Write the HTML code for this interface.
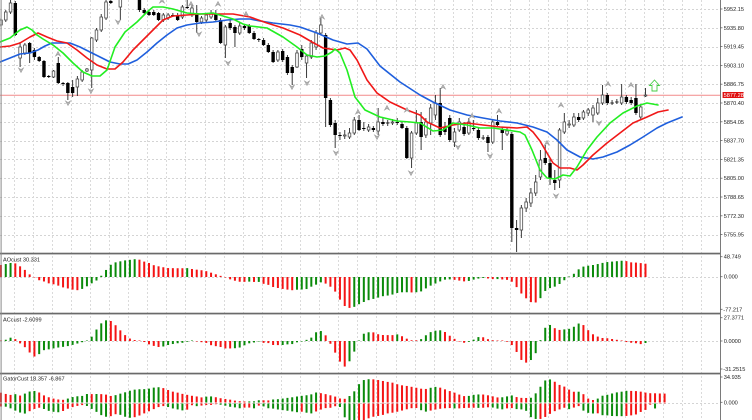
<!DOCTYPE html>
<html><head><meta charset="utf-8">
<style>
html,body{margin:0;padding:0;background:#fff;width:752px;height:420px;overflow:hidden}
svg{display:block}
text{font-family:"Liberation Sans",sans-serif;font-size:5.6px;fill:#222}
</style></head><body>
<svg id="s" width="752" height="420" viewBox="0 0 752 420" xmlns="http://www.w3.org/2000/svg">
<defs>
<clipPath id="cm"><rect x="0" y="0" width="720" height="252.7"/></clipPath>
<clipPath id="cp"><rect x="0" y="254" width="720" height="166"/></clipPath>
</defs>
<rect x="0" y="0" width="752" height="420" fill="#fff"/>
<g id="grid"></g>
<line x1="0" y1="95.2" x2="720" y2="95.2" stroke="#f28a8a" stroke-width="1"/>
<g id="main" clip-path="url(#cm)"></g>
<g id="pan" clip-path="url(#cp)"></g>
<!-- green arrow -->
<path d="M654.5,80 L659.5,85.5 L657,85.5 L657,91 L652,91 L652,85.5 L649.5,85.5 Z" fill="none" stroke="#44cc44" stroke-width="0.9"/>
<!-- separators & axes -->
<rect x="0" y="252.7" width="721" height="1.7" fill="#6a6a6a"/>
<rect x="0" y="312.7" width="721" height="1.7" fill="#6a6a6a"/>
<rect x="0" y="372.7" width="721" height="1.7" fill="#6a6a6a"/>
<rect x="720" y="0" width="1" height="420" fill="#7a7a7a"/>
<rect x="0.6" y="0" width="1" height="420" fill="#8a8a8a"/>
<g id="ticks" stroke="#666" stroke-width="0.8"></g>
<!-- price labels -->
<text x="723.8" y="11">5952.15</text>
<text x="723.8" y="29.8">5935.80</text>
<text x="723.8" y="48.6">5919.45</text>
<text x="723.8" y="67.4">5903.10</text>
<text x="723.8" y="86.2">5886.75</text>
<text x="723.8" y="105">5870.40</text>
<text x="723.8" y="123.8">5854.05</text>
<text x="723.8" y="142.6">5837.70</text>
<text x="723.8" y="161.4">5821.35</text>
<text x="723.8" y="180.2">5805.00</text>
<text x="723.8" y="199">5788.65</text>
<text x="723.8" y="217.8">5772.30</text>
<text x="723.8" y="236.6">5755.95</text>
<rect x="722.6" y="92" width="21" height="6" fill="#e01010"/>
<text x="723.6" y="97.2" style="fill:#fff">5877.28</text>
<text x="723.8" y="258.7">48.749</text>
<text x="723.8" y="278.7">0.000</text>
<text x="723.3" y="311.3">-77.217</text>
<text x="723.8" y="319.7">27.3771</text>
<text x="723.8" y="343">0.0000</text>
<text x="723.3" y="371">-31.2515</text>
<text x="723.8" y="379">34.935</text>
<text x="723.8" y="404.3">0.000</text>
<text x="3" y="261.7">AOcust 30.331</text>
<text x="3" y="321.7">ACcust -2.6099</text>
<text x="3" y="380.7">GatorCust 18.357 -6.867</text>
</svg>
<script>
(function(){
var X0=1,DX=4.774;
var C=[[25,20,18,27],[20,12,10,22],[12,3,0,14],[3,35,1,36],[58,47,42,67],[53,45,43,55],[43,53,42,63],[50,57,48,60],[57,61,56,62],[61,77,60,78],
[76,77,75,78],[77,71,70,78],[63,83,57,84],[83,84,82,86],[83,93,82,100],[87,93,80,97],[87,79,76,96],[80,72,70,82],[71,69,68,72],[70,38,37,88],
[40,30,28,42],[30,17,14,32],[18,2,0,20],[1,3,0,4],[-2,-10,-14,0],[7,-3,-5,20],[-5,-15,-20,-2],[-8,-14,-20,-3],[-10,-4,-18,-2],[-10,10,-15,12],
[10,13,8,15],[12,15,10,16],[12,15,10,16],[13,20,12,21],[20,15,13,22],[18,15,13,20],[15,16,13,17],[15,20,13,21],[17,7,5,19],[7,8,0,9],
[15,8,5,17],[13,22,5,33],[22,18,16,24],[20,15,13,22],[17,13,10,19],[14,20,10,22],[20,43,18,44],[45,27,25,58],[23,28,20,30],[27,33,25,47],
[33,26,22,35],[26,28,24,30],[26,33,24,34],[33,39,31,40],[39,40,38,42],[40,45,38,46],[45,52,43,53],[52,62,50,63],[60,52,50,62],[51,60,49,62],
[57,73,55,75],[67,73,65,85],[67,53,50,68],[49,57,45,60],[63,56,54,78],[57,43,40,59],[47,33,30,50],[33,25,18,35],[35,98,33,127],[100,125,98,127],
[123,135,120,148],[135,136,132,140],[136,135,130,139],[137,133,128,139],[133,120,117,135],[120,130,115,131],[128,129,122,131],[130,127,124,132],[128,130,126,132],[131,122,108,135],
[122,124,118,126],[123,123,120,126],[123,122,119,125],[122,123,118,125],[124,128,121,129],[128,158,126,159],[158,133,131,168],[133,123,110,135],[122,137,112,150],[135,122,118,138],
[123,108,104,135],[115,103,95,120],[103,135,88,137],[127,132,122,135],[118,140,115,142],[142,132,128,147],[130,122,118,132],[127,134,122,136],[133,122,118,135],[128,129,120,131],
[130,138,127,140],[138,138,135,140],[137,143,135,152],[142,122,120,144],[122,125,115,127],[130,133,127,150],[134,131,128,136],[134,228,132,242],[228,230,220,252],[230,208,205,238],
[208,202,198,212],[203,193,188,207],[193,182,175,196],[177,160,150,180],[158,163,145,165],[163,178,158,185],[180,183,170,190],[180,130,128,188],[132,122,113,134],[125,124,120,128],
[125,117,113,127],[117,120,113,122],[118,112,110,120],[113,110,108,116],[115,108,105,122],[113,103,98,115],[103,95,85,105],[95,103,93,105],[103,103,100,105],[102,102,99,104],
[103,97,84,105],[97,102,95,104],[100,103,97,105],[98,113,84,115],[117,107,104,120],[96,95,88,97]];

var BLUE=[[0,62],[10,58],[20,54],[30,53],[38,50],[45,46],[52,43],[60,43],[70,43],[80,47],[90,52],[100,57],[110,62],[120,64],[128,64],[137,60],[147,52],[157,43],[167,35],[177,28],[187,25],[200,23],[213,22],[227,20],[240,19],[250,19],[260,21],[273,23],[290,25],[300,27],[317,33],[333,40],[347,44],[358,43],[367,49],[380,66],[400,82],[420,95],[433,102],[450,110],[467,115],[483,118],[500,121],[517,123],[533,127],[547,132],[557,140],[567,150],[580,157],[593,159],[603,157],[617,152],[630,145],[643,137],[657,128],[667,123],[682,117]];
var RED=[[0,47],[10,46],[20,43],[30,37],[38,33],[47,37],[57,41],[67,43],[77,50],[87,58],[97,65],[107,69],[115,69],[123,62],[133,50],[143,40],[153,30],[163,20],[173,16],[187,15],[200,14],[217,14],[233,14],[250,17],[267,23],[283,28],[300,35],[312,42],[323,48],[337,50],[345,48],[350,50],[357,60],[367,80],[377,93],[390,102],[407,110],[420,115],[427,122],[440,128],[453,125],[467,123],[483,125],[500,127],[517,128],[527,127],[533,132],[540,141],[547,153],[553,163],[560,168],[570,168],[577,170],[583,165],[593,155],[607,143],[620,133],[633,123],[647,117],[658,112],[668,110]];
var GRN=[[0,42],[10,38],[20,30],[27,27],[32,30],[37,35],[43,39],[53,45],[63,53],[73,63],[83,72],[92,76],[100,76],[107,70],[115,47],[125,32],[137,22],[147,12],[153,7],[163,7],[173,9],[187,13],[200,14],[213,13],[223,16],[233,19],[243,24],[250,26],[267,28],[283,37],[297,47],[307,55],[317,57],[325,56],[332,52],[335,49],[340,53],[347,70],[355,97],[365,110],[380,117],[397,121],[410,122],[420,123],[433,131],[443,130],[453,123],[467,125],[480,128],[493,128],[507,130],[520,132],[525,135],[532,150],[540,170],[547,178],[555,179],[563,175],[570,176],[577,167],[587,150],[597,137],[610,123],[623,113],[637,106],[647,103],[658,105]];

var AO=[[1,12],[6,13],[10,14],[14,14.1],[17,13],[21,10],[25,7],[29,3],[33,0.5],[38,-3],[43,-4],[47,-6],[52,-7],[57,-8],[61,-10],[66,-11],[70,-12],[74,-13],[78,-13.2],[82,-12],[86,-10],[90,-7],[95,-5],[99,-1],[104,4],[108,10],[113,14],[117,15],[122,16],[127,17],[132,17.3],[136,18],[141,17],[145,15],[149,14],[153,12],[157,11],[162,10],[167,9],[171,8.8],[175,8.9],[179,8.7],[184,8.8],[188,8.9],[192,8],[197,7.3],[202,6.7],[207,5.7],[212,4],[217,2.3],[222,0.7],[227,-1],[231,-2.7],[236,-4],[241,-5],[245,-4.8],[250,-4.6],[255,-5],[259,-4.9],[264,-7],[269,-8],[273,-10],[278,-11],[283,-12],[288,-12.7],[293,-13.3],[297,-12.7],[302,-12.5],[307,-12],[312,-9.3],[316,-7.7],[321,-5.3],[326,-6.7],[330,-9.3],[335,-14.3],[340,-22.7],[344,-28.7],[349,-31],[354,-30],[358,-27.7],[363,-25.3],[368,-23.3],[373,-22],[377,-21],[382,-19.3],[387,-18.7],[392,-17.7],[397,-16],[401,-15.3],[406,-15.2],[410,-15.5],[415,-15.3],[420,-15.1],[425,-12],[429,-9.3],[433,-7.7],[438,-5.3],[443,-3.3],[447,-2],[452,-2.7],[457,-3],[462,-4.3],[467,-4.5],[471,-3.3],[476,-2],[480,-1.3],[485,-0.7],[490,-2],[495,-2.2],[499,-2],[504,-2.7],[508,-2.9],[513,-5.3],[518,-12],[523,-18.7],[527,-22],[532,-26],[537,-25.3],[542,-19.3],[546,-12.7],[551,-10.7],[556,-9.3],[560,-6.7],[565,-2.7],[570,0.7],[574,3.3],[579,8],[584,10.7],[588,11.3],[593,12],[598,13],[602,14],[606,14.7],[609,15.3],[612,15.4],[616,15.7],[621,16.3],[626,16],[630,14.7],[635,14.5],[640,14],[645,13.3]];

var AC=[[1,0.5],[6,1.3],[10,3.3],[14,3.35],[18,-1],[23,-4.3],[28,-9.3],[33,-16],[38,-14.3],[43,-9.3],[47,-8.7],[52,-7.7],[57,-6.7],[62,-6],[67,-5.3],[71,-4.3],[75,-3.3],[79,-2],[83,-1],[87,0.5],[91,3.3],[95,9],[99,15.7],[104,20],[108,21.3],[113,19],[117,14],[122,9],[127,4],[132,1.3],[137,0.7],[142,0.3],[147,-2.7],[152,-4.3],[157,-6],[162,-5.9],[167,-4.3],[171,-3.3],[175,-2.7],[179,-2],[184,-1.7],[188,-0.5],[192,0.5],[197,-0.3],[202,-1.3],[207,-2],[212,-4.7],[217,-5.3],[222,-6.3],[227,-8],[231,-7.3],[236,-7.2],[241,-6.3],[245,-4],[250,-2],[255,-1.3],[259,-0.4],[264,-2],[269,-2.1],[273,-4],[278,-4.1],[283,-4],[288,-3.3],[293,-3],[297,-1.3],[302,-0.3],[307,1.3],[312,3.7],[316,8.7],[321,10],[326,5.3],[330,-2],[335,-11.3],[340,-20.7],[344,-26.3],[349,-21.3],[354,-11.3],[358,-1.3],[363,7],[368,8.7],[373,8.8],[377,7],[382,6],[387,5.9],[392,5.8],[397,6.7],[401,5.3],[406,2.7],[410,0.8],[415,0.6],[420,1],[425,5],[429,8.3],[433,9.7],[438,11],[443,10.3],[447,7.7],[452,3.3],[457,1],[462,-1.7],[467,-1.8],[471,0.3],[476,2.3],[480,5],[485,3],[490,1],[495,0.6],[499,0.4],[504,0.2],[508,-1],[513,-5],[518,-13.3],[523,-21.7],[527,-21.6],[532,-18.3],[537,-10],[542,5.7],[546,15],[551,16.3],[556,11.7],[560,11],[565,11.7],[570,12.3],[574,14.3],[579,17.7],[584,15.7],[588,11],[593,6.7],[598,4.3],[602,3],[606,3.1],[609,2.3],[612,2],[616,1.3],[621,0.7],[626,-1],[630,-1.7],[635,-2],[640,-3.3],[645,-2]];

var GU=[[1,9.8],[6,8.5],[11,7.5],[15,8.5],[19,6.5],[24,8.5],[29,10.8],[33,11.8],[38,10.8],[43,7.5],[47,5.8],[52,4.2],[57,3.2],[62,2.5],[66,3.2],[71,5.2],[75,5.8],[79,6.5],[83,6.6],[87,8.5],[91,8.4],[96,8.5],[100,8.4],[104,8.3],[108,7.5],[113,5.8],[117,8.2],[122,9.2],[127,10.8],[132,12.5],[137,13.2],[142,13.3],[146,13.4],[151,14.2],[155,15.2],[160,15.3],[164,14.2],[168,12.5],[173,10.8],[178,9.8],[183,8.5],[188,7.5],[192,6.7],[197,6],[202,5],[207,6],[212,6.1],[217,5],[222,4],[227,3.3],[231,2.7],[236,1.7],[241,1.2],[245,1],[250,1.1],[255,1.2],[259,2.3],[264,2.2],[269,2.1],[273,3],[278,3.3],[283,4],[288,4.7],[293,5.3],[297,6],[302,6.7],[307,7.3],[312,8.3],[316,10],[321,9.3],[326,8.3],[330,7.3],[335,6],[340,4],[344,3.3],[349,6],[354,10.7],[358,17.3],[363,22.3],[368,23.3],[373,23.2],[377,22.7],[382,21.7],[387,20.7],[392,20],[397,18.3],[401,17.3],[406,16.7],[410,16],[415,15],[420,14],[424,13.3],[429,14],[433,15.7],[438,15.5],[443,14],[447,12.3],[452,10.7],[457,9],[462,6.7],[467,6],[471,7.3],[476,8],[480,8.1],[485,7.9],[490,6.7],[495,5.7],[499,4.7],[504,5.5],[508,6.3],[513,7.3],[518,4.7],[523,4.6],[527,4.5],[532,4.8],[537,10.7],[542,18],[546,23],[551,23.1],[556,20],[560,17.3],[565,15.7],[570,12.3],[574,10.7],[579,10.8],[584,8],[588,4],[593,2.5],[598,4],[602,6.7],[606,7.3],[609,8.3],[612,9],[616,10],[621,10.7],[626,11.7],[630,11.6],[635,11.5],[640,11],[645,10],[650,9.3],[655,9.2],[660,9],[665,8.9]];

var GD=[[1,3],[6,3.2],[11,5],[15,7],[20,9],[24,10.5],[29,8],[33,6],[38,4],[43,5],[47,7],[52,8],[57,9],[62,8],[66,6],[71,4],[75,3],[79,2],[83,1.5],[87,2.5],[91,5],[96,8],[100,11],[104,13],[108,13.5],[113,12],[117,10],[122,12],[127,14],[132,14.5],[137,13],[142,11],[146,9],[151,7],[155,5],[160,3],[164,2.5],[168,3.5],[173,5],[178,6],[183,7],[188,6],[192,1.7],[197,2.7],[202,2],[207,1.5],[212,1.4],[217,0.5],[222,1.5],[227,2.5],[231,3.5],[236,4],[241,5],[245,4],[250,4.1],[255,5],[259,2],[264,3],[269,5],[273,5.1],[278,6],[283,6.7],[288,7.3],[293,8],[297,8.7],[302,8.2],[307,9.3],[312,10],[316,8],[321,6],[326,4.5],[330,4.4],[335,2.7],[340,3.5],[344,13.3],[349,16.7],[354,17],[358,16.9],[363,16.8],[368,15],[373,13.3],[377,12.7],[382,11.7],[387,10],[392,9.3],[397,8.3],[401,7.3],[406,6],[410,5],[415,4],[420,6],[424,8.5],[429,7.5],[433,6.5],[438,5.5],[443,5],[447,4.5],[452,4.6],[457,5.2],[462,4.5],[467,4.6],[471,4],[476,4.5],[480,4.3],[485,4.2],[490,3.5],[495,4.5],[499,5.5],[504,6],[508,4.5],[513,4.6],[518,6],[523,5.9],[527,7.7],[532,15.3],[537,15.5],[542,15.4],[546,13],[551,9.7],[556,7],[560,5.8],[565,4],[570,6],[574,4],[579,2.5],[584,7.7],[588,9.3],[593,10],[598,9.8],[602,11.7],[606,11.6],[609,12.3],[612,12.5],[616,12.6],[621,12.7],[626,12.5],[630,12],[635,11.5],[640,8.7],[645,7],[650,1],[655,5],[660,0],[665,0]];

var UP=[[58,54],[162,1],[191,4],[218,4],[246,14],[322,17],[358,112],[387,108],[407,110],[443,87],[472,116],[499,111],[547,143],[561,105],[608,84],[631,85]];
var DN=[[21,70],[68,103],[91,91],[118,22],[199,34],[228,63],[292,87],[307,83],[336,153],[377,137],[411,173],[458,147],[490,156],[556,196],[599,123]];

function f(n){return (Math.round(n*100)/100).toString();}
function itp(P,x){
  if(x<=P[0][0])return P[0][1];
  for(var k=1;k<P.length;k++){
    if(x<=P[k][0]){var a=P[k-1],b=P[k];return a[1]+(b[1]-a[1])*(x-a[0])/(b[0]-a[0]);}
  }
  return P[P.length-1][1];
}

// grid
var g='';
for(var k=0;k<13;k++){var y=Math.round(9+18.8*k)+0.5;g+='<line x1="0" y1="'+y+'" x2="720" y2="'+y+'" stroke="#d4d4d4" stroke-width="1" stroke-dasharray="2,2"/>';}
[277.5,341.5,403.5].forEach(function(y){g+='<line x1="0" y1="'+y+'" x2="720" y2="'+y+'" stroke="#d4d4d4" stroke-width="1" stroke-dasharray="2,2"/>';});
for(var k=0;k<38;k++){var x=Math.round(13.5+19.1*k)+0.5;if(x>719)break;g+='<line x1="'+x+'" y1="0" x2="'+x+'" y2="420" stroke="#dadada" stroke-width="1" stroke-dasharray="2,2"/>';}
document.getElementById('grid').innerHTML=g;

// ticks
var t='';
var ty=[9,27.8,46.6,65.4,84.2,103,121.8,140.6,159.4,178.2,197,215.8,234.6,256.7,276.7,309.3,317.7,341,369,377,402.3];
ty.forEach(function(y){t+='<line x1="720" y1="'+y+'" x2="722.5" y2="'+y+'"/>';});
document.getElementById('ticks').innerHTML=t;

// candles
var s='';
for(var i=0;i<C.length;i++){
  var x=X0+DX*i,o=C[i][0],c=C[i][1],h=C[i][2],l=C[i][3];
  s+='<line x1="'+f(x)+'" y1="'+h+'" x2="'+f(x)+'" y2="'+l+'" stroke="#3a3a3a" stroke-width="1"/>';
  var top=Math.min(o,c),bot=Math.max(o,c);
  if(c<o){
    s+='<rect x="'+f(x-1.3)+'" y="'+top+'" width="2.6" height="'+Math.max(bot-top,0.8)+'" fill="#fff" stroke="#4a4a4a" stroke-width="0.8"/>';
  }else if(c>o){
    s+='<rect x="'+f(x-1.7)+'" y="'+top+'" width="3.4" height="'+Math.max(bot-top,0.8)+'" fill="#000"/>';
  }else{
    s+='<line x1="'+f(x-1.7)+'" y1="'+o+'" x2="'+f(x+1.7)+'" y2="'+o+'" stroke="#222" stroke-width="1"/>';
  }
}
function pl(P,col){return '<polyline points="'+P.map(function(p){return p[0]+','+p[1];}).join(' ')+'" fill="none" stroke="'+col+'" stroke-width="1.6" stroke-linejoin="round" stroke-linecap="round"/>';}
s+=pl(BLUE,'#1f5fdd')+pl(RED,'#f01818')+pl(GRN,'#22ee22');
UP.forEach(function(p){var x=p[0],y=p[1];s+='<path d="M'+(x-2.5)+','+(y+2)+' L'+x+','+(y-2.5)+' L'+(x+2.5)+','+(y+2)+' L'+x+','+(y+0.5)+' Z" fill="#b8b8b8" stroke="#9a9a9a" stroke-width="0.6"/>';});
DN.forEach(function(p){var x=p[0],y=p[1];s+='<path d="M'+(x-2.5)+','+(y-2)+' L'+x+','+(y+2.5)+' L'+(x+2.5)+','+(y-2)+' L'+x+','+(y-0.5)+' Z" fill="#b8b8b8" stroke="#9a9a9a" stroke-width="0.6"/>';});
document.getElementById('main').innerHTML=s;

// histograms
var GC='#0a8a0a',RC='#f41414';
function bars(P,n,zero,mode){
  var out='',prev=null,col=RC;
  for(var i=0;i<n;i++){
    var x=X0+DX*i,v=itp(P,x);
    if(prev!==null){if(v>prev+0.01)col=GC;else if(v<prev-0.01)col=RC;}
    prev=v;
    var y,h;
    if(mode==='sig'){h=Math.max(Math.abs(v),0.5);y=v>=0?zero-h:zero;}
    else if(mode==='up'){h=Math.max(v,0.3);y=zero-h;}
    else{h=Math.max(v,0.3);y=zero;}
    out+='<rect x="'+f(x-1)+'" y="'+f(y)+'" width="2" height="'+f(h)+'" fill="'+col+'"/>';
  }
  return out;
}
var p='';
p+=bars(AO,136,277,'sig');
p+=bars(AC,136,341,'sig');
p+=bars(GU,140,402.5,'up');
p+=bars(GD,140,403.5,'dn');
document.getElementById('pan').innerHTML=p;
})();
</script>
</body></html>
